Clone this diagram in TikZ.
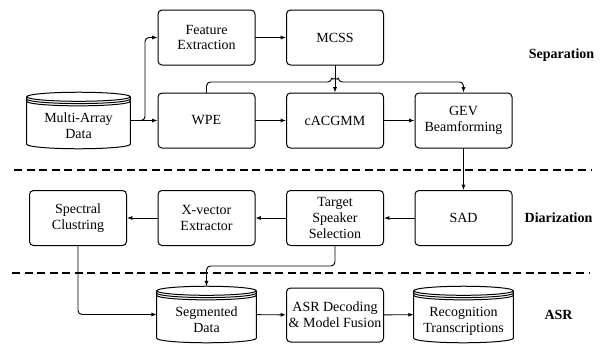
\documentclass[tikz,border=0pt]{standalone}
\usepackage{fontspec}
\setmainfont{Liberation Serif}
\usetikzlibrary{arrows.meta,calc}

\begin{document}
\begin{tikzpicture}[
  x=0.75pt, y=-0.75pt,
  line cap=round, line join=round, >={Latex[length=4pt,width=3pt]},
  blk/.style={draw, line width=0.75pt, rounded corners=3pt, minimum width=72.75pt,
              minimum height=41.25pt, inner sep=1pt, align=center,
              font=\fontsize{10.5}{11.8}\selectfont},
  store/.style={minimum width=74.25pt, minimum height=42pt, inner sep=1pt, align=center,
                font=\fontsize{10.5}{12.5}\selectfont,
                text height=30pt, text depth=2.5pt},
  stage/.style={font=\fontsize{10.5}{11.8}\selectfont\bfseries},
  divider/.style={line width=1.1pt, line cap=butt, dash pattern=on 6pt off 3.4pt},
  flow/.style={->, line width=0.7pt, rounded corners=3pt}
]
  \useasboundingbox (0,0) rectangle (603,343);

  % ── Separation ───────────────────────────────────────────────
  \node[store, minimum width=77.25pt] (data) at (78.5,120.5) {Multi-Array\\Data};
  \node[blk] (feat) at (206.5,37.5)  {Feature\\Extraction};
  \node[blk] (mcss) at (335,37.5)    {MCSS};
  \node[blk] (wpe)  at (206.5,120.5) {WPE};
  \node[blk] (acg)  at (335,120.5)   {cACGMM};
  \node[blk] (gev)  at (463.5,120.5) {GEV\\Beamforming};
  \node[stage] (lsep) at (561.5,55) {Separation};

  \coordinate (split) at (145,120.5);
  \coordinate (hop)   at (335,82);

  \draw[flow] (data) -- (wpe);
  \draw[flow] (data.east) -- (split) |- (feat.west);
  \draw[flow] (feat) -- (mcss);
  \draw[flow] (wpe) -- (acg);
  \draw[flow] (acg) -- (gev);
  \draw[flow] (mcss) -- (acg);
  % WPE output hops over the MCSS line
  \draw[flow] (wpe.north) |- ([xshift=-2.5pt]hop)
      arc[start angle=180, end angle=0, radius=2.5pt] -| (gev.north);

  \draw[divider] (14,170) -- (592,170);

  % ── Diarization ──────────────────────────────────────────────
  \node[blk] (sad)  at (463.5,218) {SAD};
  \node[blk] (tss)  at (335,218)   {Target\\Speaker\\Selection};
  \node[blk] (xvec) at (206.5,218) {X-vector\\Extractor};
  \node[blk] (spec) at (78,218)    {Spectral\\Clustring};
  \node[stage] (ldia) at (558.5,218) {Diarization};

  \draw[flow] (gev) -- (sad);
  \draw[flow] (sad) -- (tss);
  \draw[flow] (tss) -- (xvec);
  \draw[flow] (xvec) -- (spec);

  \draw[divider] (12,273) -- (590,273);

  % ── ASR ──────────────────────────────────────────────────────
  \node[store] (seg) at (206.5,314.5) {Segmented\\Data};
  \node[blk, minimum height=40.5pt] (asr) at (335,315) {ASR Decoding\\\& Model Fusion};
  \node[store] (rec) at (463.5,314.5) {Recognition\\Transcriptions};
  \node[stage] (lasr) at (558.5,315) {ASR};

  \draw[flow] (spec.south) |- (seg.west);
  \draw[flow] (tss.south) -- ++(0,20) -| (seg.north);
  \draw[flow] (seg) -- (asr);
  \draw[flow] (asr) -- (rec);

  % cylinders with stacked rims
  \foreach \cyl in {data,seg,rec}
    \draw[line width=0.75pt] let \p1=(\cyl.north west), \p2=(\cyl.south east) in
      (\x1,\y1-3.4pt) -- (\x1,\y2+3.4pt)
        arc[start angle=180, end angle=360, x radius={(\x2-\x1)/2}, y radius=3.4pt]
        -- (\x2,\y1-3.4pt)
      ({(\x1+\x2)/2},\y1-3.4pt) ellipse[x radius={(\x2-\x1)/2}, y radius=3.4pt]
      (\x1,\y1-5.1pt) arc[start angle=180, end angle=360, x radius={(\x2-\x1)/2}, y radius=3.4pt]
      (\x1,\y1-6.8pt) arc[start angle=180, end angle=360, x radius={(\x2-\x1)/2}, y radius=3.4pt];
\end{tikzpicture}
\end{document}
